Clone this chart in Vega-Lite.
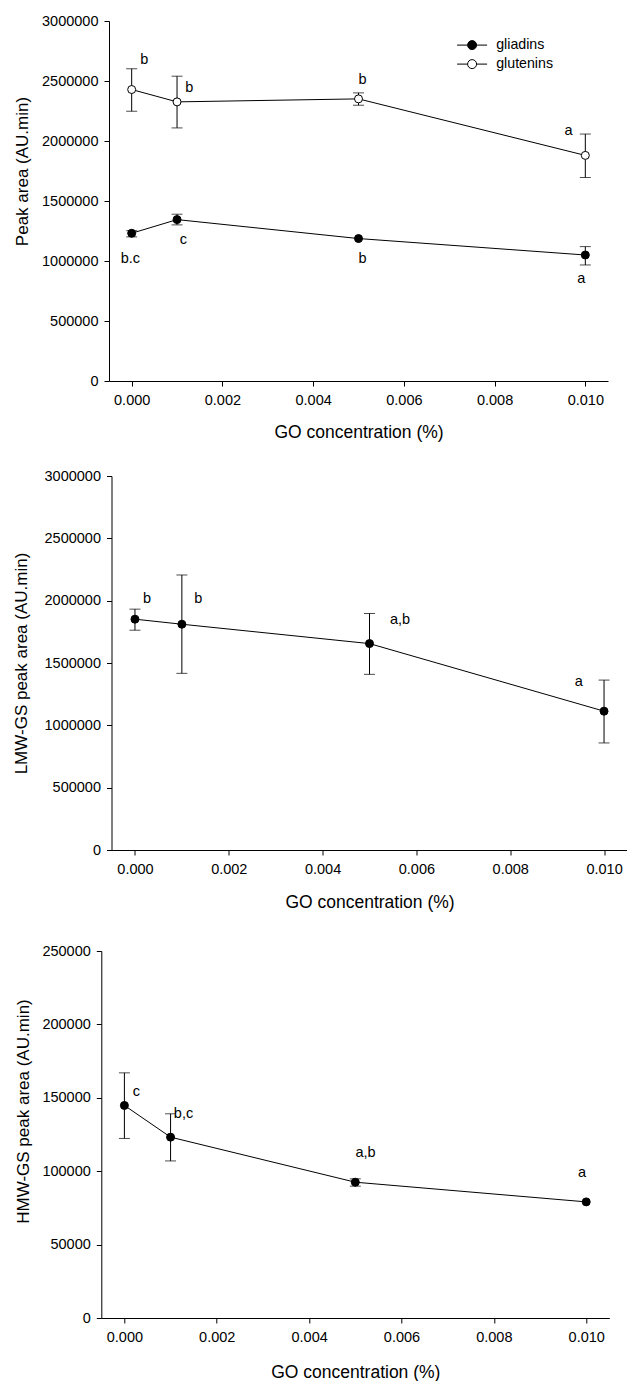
{
  "$schema": "https://vega.github.io/schema/vega-lite/v6.json",
  "padding": {"left": 5, "top": 13, "right": 0, "bottom": 0},
  "background": "white",
  "spacing": 0,
  "resolve": {"scale": {"fill": "independent"}},
  "config": {
    "view": {"stroke": null},
    "font": "Liberation Sans",
    "axis": {"grid": false, "domainColor": "black", "tickColor": "black", "labelColor": "black", "titleColor": "black", "labelFontSize": 14.5, "titleFontWeight": "normal", "tickSize": 5, "domainWidth": 1, "tickWidth": 1, "labelFont": "Liberation Sans", "titleFont": "Liberation Sans", "labelFlush": false, "labelOverlap": false},
    "axisY": {"labelPadding": 6, "titleFontSize": 17},
    "axisX": {"labelPadding": 7, "titleFontSize": 17.5},
    "text": {"font": "Liberation Sans"}
  },
  "vconcat": [
    {
      "spacing": 7,
      "resolve": {"scale": {"fill": "independent"}},
      "hconcat": [
        {"width": 1, "height": 447, "data": {"values": [{}]}, "mark": {"type": "text", "text": ""}, "encoding": {}},
        {
          "width": 499, "height": 360,
          "data": {"values": [
            {"series": "glutenins", "conc": 0, "val": 2429000, "lo": 2248000, "hi": 2602000, "letter": "b", "lx": 0.00028, "ly": 2674000},
            {"series": "glutenins", "conc": 0.001, "val": 2326000, "lo": 2109000, "hi": 2540000, "letter": "b", "lx": 0.00127, "ly": 2443000},
            {"series": "glutenins", "conc": 0.005, "val": 2351000, "lo": 2298000, "hi": 2401000, "letter": "b", "lx": 0.00509, "ly": 2507000},
            {"series": "glutenins", "conc": 0.01, "val": 1880000, "lo": 1696000, "hi": 2058000, "letter": "a", "lx": 0.00963, "ly": 2081000},
            {"series": "gliadins", "conc": 0, "val": 1231000, "lo": 1201000, "hi": 1253000, "letter": "b.c", "lx": -0.00003, "ly": 1014000},
            {"series": "gliadins", "conc": 0.001, "val": 1345000, "lo": 1301000, "hi": 1390000, "letter": "c", "lx": 0.00114, "ly": 1175000},
            {"series": "gliadins", "conc": 0.005, "val": 1187000, "lo": null, "hi": null, "letter": "b", "lx": 0.00509, "ly": 1014000},
            {"series": "gliadins", "conc": 0.01, "val": 1050000, "lo": 967000, "hi": 1120000, "letter": "a", "lx": 0.00991, "ly": 847000}
          ]},
          "layer": [
            {
              "mark": {"type": "rule", "color": "black", "strokeWidth": 1},
              "encoding": {
                "x": {"field": "conc", "type": "quantitative", "title": "GO concentration (%)", "scale": {"domain": [-0.0005, 0.0105], "nice": false, "zero": false}, "axis": {"values": [0, 0.002, 0.004, 0.006, 0.008, 0.01], "format": ".3f", "titleY": 51.7, "titleBaseline": "middle"}},
                "y": {"field": "lo", "type": "quantitative", "title": "Peak area (AU.min)", "scale": {"domain": [0, 3000000], "nice": false, "zero": false}, "axis": {"values": [0, 500000, 1000000, 1500000, 2000000, 2500000, 3000000], "format": "d", "titleX": -86.8, "titleY": 150, "titleBaseline": "middle"}},
                "y2": {"field": "hi"}
              }
            },
            {
              "mark": {"type": "tick", "orient": "horizontal", "size": 11, "thickness": 1, "color": "black"},
              "encoding": {"x": {"field": "conc", "type": "quantitative", "title": "GO concentration (%)"}, "y": {"field": "lo", "type": "quantitative", "title": "Peak area (AU.min)"}}
            },
            {
              "mark": {"type": "tick", "orient": "horizontal", "size": 11, "thickness": 1, "color": "black"},
              "encoding": {"x": {"field": "conc", "type": "quantitative", "title": "GO concentration (%)"}, "y": {"field": "hi", "type": "quantitative", "title": "Peak area (AU.min)"}}
            },
            {
              "mark": {"type": "line", "color": "black", "strokeWidth": 1},
              "encoding": {"x": {"field": "conc", "type": "quantitative", "title": "GO concentration (%)"}, "y": {"field": "val", "type": "quantitative", "title": "Peak area (AU.min)"}, "detail": {"field": "series"}}
            },
            {
              "mark": {"type": "point", "shape": "circle", "size": 64, "filled": true, "stroke": "black", "strokeWidth": 1, "opacity": 1},
              "encoding": {
                "x": {"field": "conc", "type": "quantitative", "title": "GO concentration (%)"},
                "y": {"field": "val", "type": "quantitative", "title": "Peak area (AU.min)"},
                "fill": {"field": "series", "type": "nominal", "scale": {"domain": ["gliadins", "glutenins"], "range": ["black", "white"]},
                  "legend": {"orient": "none", "legendX": 356, "legendY": 17, "title": null, "symbolType": "M-3.33,0H-1M1,0H3.33M-1,0A1,1,0,1,0,1,0A1,1,0,1,0,-1,0Z", "symbolSize": 81, "symbolStrokeColor": "black", "symbolStrokeWidth": 1, "symbolOpacity": 1, "labelFontSize": 14.2, "labelFont": "Liberation Sans", "labelColor": "black", "labelOffset": 17, "rowPadding": 4, "padding": 0}}
              }
            },
            {
              "mark": {"type": "text", "fontSize": 14.5, "color": "black", "align": "center", "baseline": "middle"},
              "encoding": {"x": {"field": "lx", "type": "quantitative", "title": "GO concentration (%)"}, "y": {"field": "ly", "type": "quantitative", "title": "Peak area (AU.min)"}, "text": {"field": "letter"}}
            }
          ]
        }
      ]
    },
    {
      "spacing": 5.5,
      "hconcat": [
        {"width": 1, "height": 467, "data": {"values": [{}]}, "mark": {"type": "text", "text": ""}, "encoding": {}},
        {
          "width": 516, "height": 374,
          "data": {"values": [
            {"conc": 0, "val": 1851500, "lo": 1763000, "hi": 1932000, "letter": "b", "lx": 0.00026, "ly": 2013000},
            {"conc": 0.001, "val": 1811000, "lo": 1417000, "hi": 2206000, "letter": "b", "lx": 0.00135, "ly": 2013000},
            {"conc": 0.005, "val": 1655600, "lo": 1409000, "hi": 1897000, "letter": "a,b", "lx": 0.00565, "ly": 1846000},
            {"conc": 0.01, "val": 1113600, "lo": 858700, "hi": 1363000, "letter": "a", "lx": 0.00946, "ly": 1350000}
          ]},
          "layer": [
            {
              "mark": {"type": "rule", "color": "black", "strokeWidth": 1},
              "encoding": {
                "x": {"field": "conc", "type": "quantitative", "title": "GO concentration (%)", "scale": {"domain": [-0.0005, 0.0105], "nice": false, "zero": false}, "axis": {"values": [0, 0.002, 0.004, 0.006, 0.008, 0.01], "format": ".3f", "titleY": 52.4, "titleBaseline": "middle"}},
                "y": {"field": "lo", "type": "quantitative", "title": "LMW-GS  peak area (AU.min)", "scale": {"domain": [0, 3000000], "nice": false, "zero": false}, "axis": {"values": [0, 500000, 1000000, 1500000, 2000000, 2500000, 3000000], "format": "d", "titleX": -90.5, "titleY": 187, "titleBaseline": "middle"}},
                "y2": {"field": "hi"}
              }
            },
            {
              "mark": {"type": "tick", "orient": "horizontal", "size": 11, "thickness": 1, "color": "black"},
              "encoding": {"x": {"field": "conc", "type": "quantitative", "title": "GO concentration (%)"}, "y": {"field": "lo", "type": "quantitative", "title": "LMW-GS  peak area (AU.min)"}}
            },
            {
              "mark": {"type": "tick", "orient": "horizontal", "size": 11, "thickness": 1, "color": "black"},
              "encoding": {"x": {"field": "conc", "type": "quantitative", "title": "GO concentration (%)"}, "y": {"field": "hi", "type": "quantitative", "title": "LMW-GS  peak area (AU.min)"}}
            },
            {
              "mark": {"type": "line", "color": "black", "strokeWidth": 1},
              "encoding": {"x": {"field": "conc", "type": "quantitative", "title": "GO concentration (%)"}, "y": {"field": "val", "type": "quantitative", "title": "LMW-GS  peak area (AU.min)"}}
            },
            {
              "mark": {"type": "point", "shape": "circle", "size": 64, "filled": true, "fill": "black", "stroke": "black", "strokeWidth": 1, "opacity": 1},
              "encoding": {"x": {"field": "conc", "type": "quantitative", "title": "GO concentration (%)"}, "y": {"field": "val", "type": "quantitative", "title": "LMW-GS  peak area (AU.min)"}}
            },
            {
              "mark": {"type": "text", "fontSize": 14.5, "color": "black", "align": "center", "baseline": "middle"},
              "encoding": {"x": {"field": "lx", "type": "quantitative", "title": "GO concentration (%)"}, "y": {"field": "ly", "type": "quantitative", "title": "LMW-GS  peak area (AU.min)"}, "text": {"field": "letter"}}
            }
          ]
        }
      ]
    },
    {
      "spacing": 7.3,
      "hconcat": [
        {"width": 1, "height": 1, "data": {"values": [{}]}, "mark": {"type": "text", "text": ""}, "encoding": {}},
        {
          "width": 508, "height": 367,
          "data": {"values": [
            {"conc": 0, "val": 144800, "lo": 122300, "hi": 167000, "letter": "c", "lx": 0.00026, "ly": 154100},
            {"conc": 0.001, "val": 123200, "lo": 107000, "hi": 139100, "letter": "b,c", "lx": 0.00128, "ly": 139300},
            {"conc": 0.005, "val": 92500, "lo": 89800, "hi": 94800, "letter": "a,b", "lx": 0.00522, "ly": 112500},
            {"conc": 0.01, "val": 79100, "lo": null, "hi": null, "letter": "a", "lx": 0.00991, "ly": 98900}
          ]},
          "layer": [
            {
              "mark": {"type": "rule", "color": "black", "strokeWidth": 1},
              "encoding": {
                "x": {"field": "conc", "type": "quantitative", "title": "GO concentration (%)", "scale": {"domain": [-0.0005, 0.0105], "nice": false, "zero": false}, "axis": {"values": [0, 0.002, 0.004, 0.006, 0.008, 0.01], "format": ".3f", "titleY": 54.5, "titleBaseline": "middle"}},
                "y": {"field": "lo", "type": "quantitative", "title": "HMW-GS  peak area (AU.min)", "scale": {"domain": [0, 250000], "nice": false, "zero": false}, "axis": {"values": [0, 50000, 100000, 150000, 200000, 250000], "format": "d", "titleX": -78.3, "titleY": 160, "titleBaseline": "middle"}},
                "y2": {"field": "hi"}
              }
            },
            {
              "mark": {"type": "tick", "orient": "horizontal", "size": 11, "thickness": 1, "color": "black"},
              "encoding": {"x": {"field": "conc", "type": "quantitative", "title": "GO concentration (%)"}, "y": {"field": "lo", "type": "quantitative", "title": "HMW-GS  peak area (AU.min)"}}
            },
            {
              "mark": {"type": "tick", "orient": "horizontal", "size": 11, "thickness": 1, "color": "black"},
              "encoding": {"x": {"field": "conc", "type": "quantitative", "title": "GO concentration (%)"}, "y": {"field": "hi", "type": "quantitative", "title": "HMW-GS  peak area (AU.min)"}}
            },
            {
              "mark": {"type": "line", "color": "black", "strokeWidth": 1},
              "encoding": {"x": {"field": "conc", "type": "quantitative", "title": "GO concentration (%)"}, "y": {"field": "val", "type": "quantitative", "title": "HMW-GS  peak area (AU.min)"}}
            },
            {
              "mark": {"type": "point", "shape": "circle", "size": 64, "filled": true, "fill": "black", "stroke": "black", "strokeWidth": 1, "opacity": 1},
              "encoding": {"x": {"field": "conc", "type": "quantitative", "title": "GO concentration (%)"}, "y": {"field": "val", "type": "quantitative", "title": "HMW-GS  peak area (AU.min)"}}
            },
            {
              "mark": {"type": "text", "fontSize": 14.5, "color": "black", "align": "center", "baseline": "middle"},
              "encoding": {"x": {"field": "lx", "type": "quantitative", "title": "GO concentration (%)"}, "y": {"field": "ly", "type": "quantitative", "title": "HMW-GS  peak area (AU.min)"}, "text": {"field": "letter"}}
            }
          ]
        }
      ]
    }
  ]
}
